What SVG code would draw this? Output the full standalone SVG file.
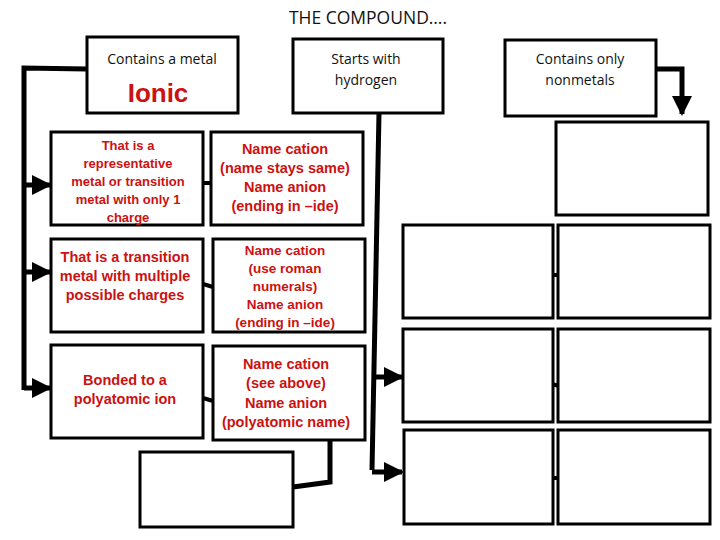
<svg xmlns="http://www.w3.org/2000/svg" width="720" height="540" viewBox="0 0 720 540">
<style>
.b{fill:#fff;stroke:#000;stroke-width:3}
.h{font-family:"Open Sans","Liberation Sans",sans-serif;font-size:14px;fill:#111;text-anchor:middle}
.r{font-family:"Liberation Sans",Arial,sans-serif;font-size:14px;font-weight:bold;fill:#cc1111;text-anchor:middle}
.rb{font-family:"Liberation Sans",Arial,sans-serif;font-size:13px;font-weight:bold;fill:#cc1111;text-anchor:middle}
.c{fill:none;stroke:#000;stroke-width:5}
.s{fill:none;stroke:#000;stroke-width:4}
</style>
<defs><marker id="a" viewBox="0 0 10 10" refX="9" refY="5" markerWidth="4" markerHeight="4" orient="auto"><path d="M0,0L10,5L0,10z" fill="#000"/></marker></defs>
<rect width="720" height="540" fill="#fff"/>
<text x="368" y="24" class="h" style="font-size:17.5px">THE COMPOUND….</text>
<g id="connectors">
<path class="c" d="M87,69L24,68V390"/>
<path class="c" d="M24,185H50" marker-end="url(#a)"/>
<path class="c" d="M24,272H50" marker-end="url(#a)"/>
<path class="c" d="M24,388H50" marker-end="url(#a)"/>
<path class="s" d="M203,183H211"/>
<path class="s" d="M203,284L213,287"/>
<path class="s" d="M203,398L213,401"/>
<path class="c" d="M330,441V482L293,487"/>
<path class="c" d="M379,113L372,470"/>
<path class="c" d="M375,377H402" marker-end="url(#a)"/>
<path class="c" d="M372,472H402" marker-end="url(#a)"/>
<path class="c" d="M656,69H682V114" marker-end="url(#a)"/>
<path class="s" d="M552,275H559"/>
<path class="s" d="M552,384L559,386"/>
<path class="s" d="M552,478H559"/>
</g>
<g id="metal"><rect class="b" x="87" y="37" width="151" height="76"/><text x="162" y="64" class="h">Contains a metal</text><text x="158" y="102" style="font-family:'Liberation Sans',Arial,sans-serif;font-size:26px;font-weight:bold;fill:#cc1111;text-anchor:middle">Ionic</text></g>
<g id="hydrogen"><rect class="b" x="293" y="39" width="150" height="74"/><text x="366" y="64" class="h">Starts with</text><text x="366" y="85" class="h">hydrogen</text></g>
<g id="nonmetals"><rect class="b" x="505" y="40" width="151" height="76"/><text x="580" y="64" class="h">Contains only</text><text x="580" y="85" class="h">nonmetals</text></g>
<g id="a1"><rect class="b" x="51" y="132" width="152" height="93"/><text class="rb"><tspan x="128" y="150">That is a</tspan><tspan x="128" y="168">representative</tspan><tspan x="128" y="186">metal or transition</tspan><tspan x="128" y="204">metal with only 1</tspan><tspan x="128" y="222">charge</tspan></text></g>
<g id="b1"><rect class="b" x="211" y="132" width="152" height="93"/><text class="r" style="font-size:14.5px"><tspan x="285" y="154">Name cation</tspan><tspan x="285" y="173">(name stays same)</tspan><tspan x="285" y="192">Name anion</tspan><tspan x="285" y="211">(ending in –ide)</tspan></text></g>
<g id="a2"><rect class="b" x="51" y="239" width="152" height="93"/><text class="r" style="font-size:14.5px"><tspan x="125" y="262">That is a transition</tspan><tspan x="125" y="281">metal with multiple</tspan><tspan x="125" y="300">possible charges</tspan></text></g>
<g id="b2"><rect class="b" x="213" y="239" width="152" height="93"/><text class="r" style="font-size:13.5px"><tspan x="285" y="255">Name cation</tspan><tspan x="285" y="273">(use roman</tspan><tspan x="285" y="291">numerals)</tspan><tspan x="285" y="309">Name anion</tspan><tspan x="285" y="327">(ending in –ide)</tspan></text></g>
<g id="a3"><rect class="b" x="51" y="345" width="152" height="93"/><text class="r" style="font-size:14.5px"><tspan x="125" y="385">Bonded to a</tspan><tspan x="125" y="404">polyatomic ion</tspan></text></g>
<g id="b3"><rect class="b" x="213" y="346" width="152" height="94"/><text class="r" style="font-size:14.5px"><tspan x="286" y="369">Name cation</tspan><tspan x="286" y="388">(see above)</tspan><tspan x="286" y="408">Name anion</tspan><tspan x="286" y="427">(polyatomic name)</tspan></text></g>
<g id="bottom"><rect class="b" x="140" y="452" width="153" height="75"/></g>
<g id="n0"><rect class="b" x="556" y="122" width="152" height="93"/></g>
<g id="g1"><rect class="b" x="403" y="225" width="150" height="93"/></g>
<g id="g2"><rect class="b" x="558" y="225" width="152" height="93"/></g>
<g id="g3"><rect class="b" x="403" y="329" width="150" height="93"/></g>
<g id="g4"><rect class="b" x="558" y="329" width="152" height="93"/></g>
<g id="g5"><rect class="b" x="404" y="430" width="149" height="94"/></g>
<g id="g6"><rect class="b" x="558" y="430" width="152" height="94"/></g>
</svg>
